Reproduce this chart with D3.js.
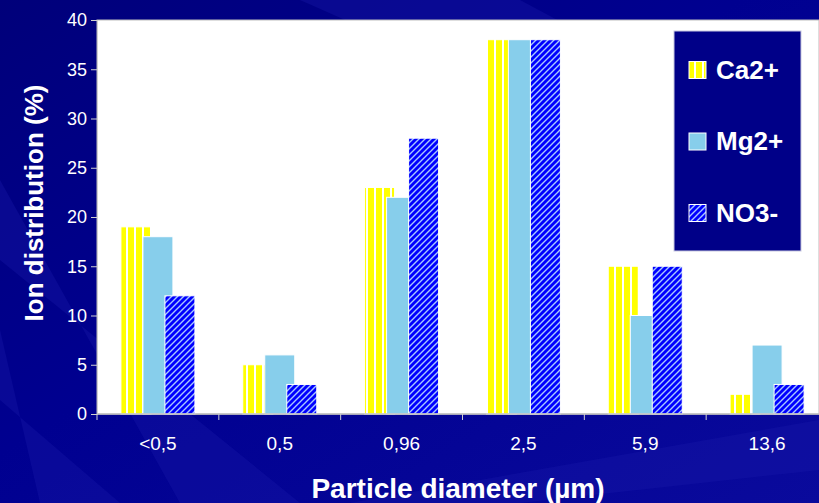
<!DOCTYPE html>
<html>
<head>
<meta charset="utf-8">
<script src="https://cdn.jsdelivr.net/npm/d3@7"></script>
<style>
  html, body { margin: 0; padding: 0; background: #000080; }
  svg { display: block; font-family: "Liberation Sans", Arial, sans-serif; }
</style>
</head>
<body>
<div id="chart"></div>
<script>
// data
const categories = ["<0,5", "0,5", "0,96", "2,5", "5,9", "13,6"];
const seriesNames = ["Ca2+", "Mg2+", "NO3-"];
const ca = [19, 5, 23, 38, 15, 2];
const mg = [18, 6, 22, 38, 10, 7];
const no3 = [12, 3, 28, 38, 15, 3];
const yTicks = [0, 5, 10, 15, 20, 25, 30, 35, 40];

const W = 819, H = 503;
const svg = d3.select('#chart').append('svg').attr('width', W).attr('height', H);
const defs = svg.append('defs');

// background: navy with soft diagonal streaks
const bg = defs.append('linearGradient').attr('id', 'bg').attr('x1', '0').attr('y1', '0').attr('x2', '1').attr('y2', '1');
bg.append('stop').attr('offset', '0%').attr('stop-color', '#00007a');
bg.append('stop').attr('offset', '45%').attr('stop-color', '#000090');
bg.append('stop').attr('offset', '100%').attr('stop-color', '#0a0a9c');
svg.append('rect').attr('width', W).attr('height', H).attr('fill', 'url(#bg)');
const streaks = [
  [[0, 180], [0, 260], [300, 503], [180, 503]],
  [[0, 330], [0, 400], [120, 503], [40, 503]],
  [[350, 503], [819, 420], [819, 470], [520, 503]],
  [[300, 0], [520, 0], [819, 160], [819, 230]]
];
svg.selectAll('polygon.streak').data(streaks).join('polygon')
  .attr('class', 'streak')
  .attr('points', d => d.map(p => p.join(',')).join(' '))
  .attr('fill', '#1a1aa8').attr('opacity', 0.35);

// patterns
const stripes = defs.append('pattern').attr('id', 'stripes').attr('patternUnits', 'userSpaceOnUse')
  .attr('width', 8).attr('height', 8);
stripes.append('rect').attr('width', 8).attr('height', 8).attr('fill', '#ffff00');
stripes.append('rect').attr('x', 6).attr('width', 2).attr('height', 8).attr('fill', '#ffffff');

const hatch = defs.append('pattern').attr('id', 'hatch').attr('patternUnits', 'userSpaceOnUse')
  .attr('width', 6).attr('height', 6);
hatch.append('rect').attr('width', 6).attr('height', 6).attr('fill', '#0000ff');
hatch.append('path').attr('d', 'M-1,7 L7,-1 M-4,4 L4,-4 M2,10 L10,2')
  .attr('stroke', '#a8c8ff').attr('stroke-width', 1.4);

const fills = ['url(#stripes)', '#87ceeb', 'url(#hatch)'];

// scales
const x = d3.scaleBand().domain(categories).range([97, 828]);
const xInner = d3.scalePoint().domain(seriesNames).range([-37, 7]);
const y = d3.scaleLinear().domain([0, 40]).range([414, 20]);
const barW = 30;

// plot area
svg.append('rect').attr('x', 97).attr('y', 20).attr('width', W - 97).attr('height', 394)
  .attr('fill', '#ffffff').attr('stroke', '#bdbdbd').attr('stroke-width', 1);

// bars
const series = [ca, mg, no3];
series.forEach((vals, si) => {
  svg.append('g').selectAll('rect').data(vals).join('rect')
    .attr('x', (d, i) => x(categories[i]) + x.bandwidth() / 2 + xInner(seriesNames[si]))
    .attr('y', d => y(d))
    .attr('width', barW)
    .attr('height', d => y(0) - y(d))
    .attr('fill', fills[si])
    .attr('stroke', '#ffffff').attr('stroke-width', 1);
});

// y axis
const yAxis = svg.append('g').attr('transform', 'translate(97,0)')
  .call(d3.axisLeft(y).tickValues(yTicks).tickSize(6).tickPadding(4));
yAxis.select('.domain').attr('stroke', '#d0d0d0');
yAxis.selectAll('.tick line').attr('stroke', '#d0d0d0');
yAxis.selectAll('.tick text').attr('fill', '#ffffff').style('font-size', '18px');

// x axis (ticks on band edges)
svg.append('line').attr('x1', 97).attr('x2', W).attr('y1', 414).attr('y2', 414)
  .attr('stroke', '#c0c0c0').attr('stroke-width', 1.5);
svg.append('g').selectAll('line').data(categories).join('line')
  .attr('x1', d => x(d)).attr('x2', d => x(d))
  .attr('y1', 414).attr('y2', 420)
  .attr('stroke', '#d0d0d0');
svg.append('g').selectAll('text').data(categories).join('text')
  .attr('x', d => x(d) + x.bandwidth() / 2)
  .attr('y', 450)
  .attr('text-anchor', 'middle')
  .attr('fill', '#ffffff').style('font-size', '19px')
  .text(d => d);

// axis titles
svg.append('text').attr('x', 458).attr('y', 498).attr('text-anchor', 'middle')
  .attr('fill', '#ffffff').style('font-size', '28px').style('font-weight', 'bold')
  .text('Particle diameter (µm)');
svg.append('text').attr('transform', 'translate(43,203) rotate(-90)').attr('text-anchor', 'middle')
  .attr('fill', '#ffffff').style('font-size', '26px').style('font-weight', 'bold')
  .text('Ion distribution (%)');

// legend
const lg = svg.append('g');
lg.append('rect').attr('x', 674).attr('y', 31).attr('width', 127).attr('height', 220)
  .attr('fill', '#000088').attr('stroke', '#c8c8e0').attr('stroke-width', 1);
const ly = d3.scalePoint().domain(seriesNames).range([70, 213]);
seriesNames.forEach((name, i) => {
  lg.append('rect').attr('x', 689).attr('y', ly(name) - 8.5).attr('width', 17).attr('height', 17)
    .attr('fill', fills[i]).attr('stroke', '#ffffff').attr('stroke-width', 1);
  lg.append('text').attr('x', 716).attr('y', ly(name) + 8.5)
    .attr('fill', '#ffffff').style('font-size', '26px').style('font-weight', 'bold')
    .text(name);
});
</script>
</body>
</html>
